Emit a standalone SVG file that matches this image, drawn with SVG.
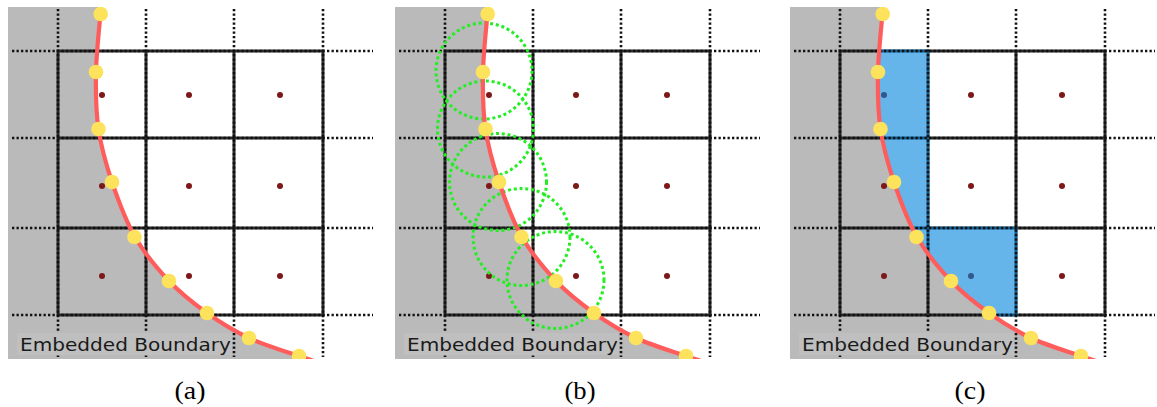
<svg xmlns="http://www.w3.org/2000/svg" xmlns:xlink="http://www.w3.org/1999/xlink" width="1157" height="407" viewBox="0 0 1157 407">
<style>
.bg{fill:#bababa}
.white{fill:#ffffff}
.grid{fill:none;stroke:#2a2a2a;stroke-width:3;stroke-linecap:square}
.dotted{fill:none;stroke:#111111;stroke-width:2.6;stroke-dasharray:2.3 2.2}
.cell{fill:#7d1818}
.lblbox{fill:#bfbfbf}
.lbl{font-family:"DejaVu Sans","Liberation Sans",sans-serif;font-size:18.5px;fill:#1a1a1a}
.curve{fill:none;stroke:#ff5c5c;stroke-width:4.2}
.pt{fill:#fde35c}
.green{fill:none;stroke:#22ee22;stroke-width:3;stroke-dasharray:3 2.8}
.blue{fill:rgb(0,132,220);fill-opacity:0.6}
.cap{font-family:"Liberation Serif","Times New Roman",serif;font-size:25px;fill:#000000}
</style>
<defs>
<clipPath id="panelclip"><rect x="8" y="7" width="372" height="352"/></clipPath>
<path id="curvepath" d="M101,8 C100.2,18.7 96.4,51.8 96,72 C95.6,92.2 95.8,110.7 98.5,129 C101.2,147.3 105.9,164 112,182 C118.1,200 125.5,220.5 135,237 C144.5,253.5 157,268.3 169,281 C181,293.7 193.7,303.5 207,313 C220.3,322.5 233.7,330.8 249,338 C264.3,345.2 285.5,351.3 299,356 C312.5,360.7 324.8,364.3 330,366"/>
<path id="whitepath" d="M101,8 C100.2,18.7 96.4,51.8 96,72 C95.6,92.2 95.8,110.7 98.5,129 C101.2,147.3 105.9,164 112,182 C118.1,200 125.5,220.5 135,237 C144.5,253.5 157,268.3 169,281 C181,293.7 193.7,303.5 207,313 C220.3,322.5 233.7,330.8 249,338 C264.3,345.2 285.5,351.3 299,356 C312.5,360.7 324.8,364.3 330,366 L400,366 L400,0 L101,0 Z"/>
<clipPath id="whiteclip"><use xlink:href="#whitepath"/></clipPath>
<path id="gridpath" d="M58,51 H323 M58,138 H323 M58,228 H323 M58,315 H323 M58,51 V315 M146,51 V315 M234,51 V315 M323,51 V315"/>
<path id="dotpath" d="M12,51 H373 M12,138 H373 M12,228 H373 M12,315 H373 M58,9 V357 M146,9 V357 M234,9 V357 M323,9 V357"/>
<g id="cells">
<circle cx="102" cy="95" r="3"/><circle cx="189" cy="95" r="3"/><circle cx="280" cy="95" r="3"/>
<circle cx="102" cy="186" r="3"/><circle cx="189" cy="186" r="3"/><circle cx="280" cy="186" r="3"/>
<circle cx="102" cy="276" r="3"/><circle cx="189" cy="276" r="3"/><circle cx="280" cy="276" r="3"/>
</g>
<g id="pts">
<circle cx="100.7" cy="14" r="7.3"/><circle cx="96" cy="72" r="7.3"/><circle cx="98.5" cy="129" r="7.3"/>
<circle cx="112" cy="182" r="7.3"/><circle cx="134.5" cy="237" r="7.3"/><circle cx="169" cy="281" r="7.3"/>
<circle cx="207" cy="313" r="7.3"/><circle cx="249" cy="338" r="7.3"/><circle cx="299" cy="356" r="7.3"/>
</g>
</defs>

<g id="panel-a">
<g clip-path="url(#panelclip)">
<rect class="bg" x="8" y="7" width="372" height="352"/>
<use class="white" xlink:href="#whitepath"/>
<use class="grid" xlink:href="#gridpath"/>
<use class="cell" xlink:href="#cells"/>
<use class="dotted" xlink:href="#dotpath"/>
<rect class="lblbox" x="17" y="333" width="215" height="22"/>
<text class="lbl" x="20" y="351" textLength="211" lengthAdjust="spacingAndGlyphs">Embedded Boundary</text>
<use class="curve" xlink:href="#curvepath"/>
<use class="pt" xlink:href="#pts"/>
</g>
<text class="cap" x="190" y="399" text-anchor="middle" textLength="31" lengthAdjust="spacingAndGlyphs">(a)</text>
</g>

<g id="panel-b" transform="translate(387,0)">
<g clip-path="url(#panelclip)">
<rect class="bg" x="8" y="7" width="372" height="352"/>
<use class="white" xlink:href="#whitepath"/>
<use class="grid" xlink:href="#gridpath"/>
<use class="cell" xlink:href="#cells"/>
<use class="dotted" xlink:href="#dotpath"/>
<rect class="lblbox" x="17" y="333" width="215" height="22"/>
<text class="lbl" x="20" y="351" textLength="211" lengthAdjust="spacingAndGlyphs">Embedded Boundary</text>
<g id="circles">
<circle class="green" cx="97" cy="71" r="48"/>
<circle class="green" cx="98.5" cy="129" r="48"/>
<circle class="green" cx="111" cy="182" r="48.5"/>
<circle class="green" cx="134.5" cy="237" r="48.5"/>
<circle class="green" cx="168.5" cy="280" r="48.5"/>
</g>
<use class="curve" xlink:href="#curvepath"/>
<use class="pt" xlink:href="#pts"/>
</g>
<text class="cap" x="193" y="399" text-anchor="middle" textLength="31" lengthAdjust="spacingAndGlyphs">(b)</text>
</g>

<g id="panel-c" transform="translate(782,0)">
<g clip-path="url(#panelclip)">
<rect class="bg" x="8" y="7" width="372" height="352"/>
<use class="white" xlink:href="#whitepath"/>
<use class="grid" xlink:href="#gridpath"/>
<use class="cell" xlink:href="#cells"/>
<g clip-path="url(#whiteclip)">
<path class="blue" d="M58,49.5 H147.5 V226.5 H235.5 V316.5 H58 Z"/>
</g>
<use class="dotted" xlink:href="#dotpath"/>
<rect class="lblbox" x="17" y="333" width="215" height="22"/>
<text class="lbl" x="20" y="351" textLength="211" lengthAdjust="spacingAndGlyphs">Embedded Boundary</text>
<use class="curve" xlink:href="#curvepath"/>
<use class="pt" xlink:href="#pts"/>
</g>
<text class="cap" x="188" y="399" text-anchor="middle" textLength="31" lengthAdjust="spacingAndGlyphs">(c)</text>
</g>
</svg>
